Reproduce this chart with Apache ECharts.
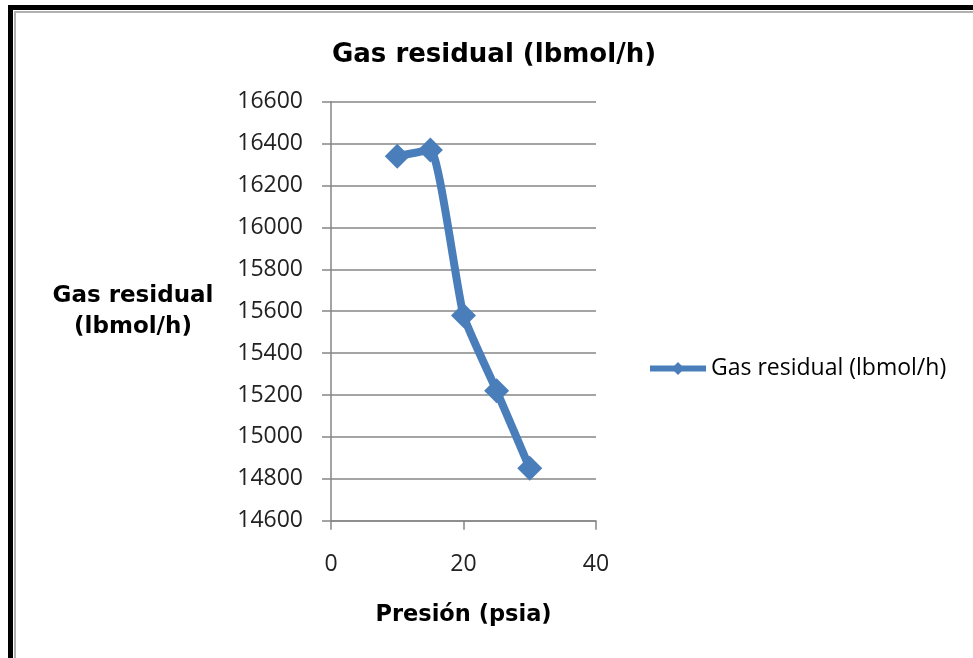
<!DOCTYPE html>
<html>
<head>
<meta charset="utf-8">
<script src="https://cdn.jsdelivr.net/npm/echarts@6/dist/echarts.min.js"></script>
<style>
  html, body { margin: 0; padding: 0; background: #fff; }
  #chart { width: 973px; height: 658px; }
</style>
</head>
<body>
<div id="chart"></div>
<script>
// presion (psia) vs gas residual
let presion = [10, 15, 20, 25, 30];
let gasResidual = [16340, 16370, 15580, 15220, 14850];
let xTicks = [0, 20, 40];
let yTicks = [14600, 16600, 200]; // min, max, step

let myChart = echarts.init(document.getElementById('chart'));

let points = [];
presion.forEach((p, i) => {
    points.push([p, gasResidual[i]]);
});

let option = {
    backgroundColor: '#fff',
    animation: false,
    title: {
        text: 'Gas residual (lbmol/h)',
        left: 489,
        top: 37,
        textAlign: 'center',
        textStyle: {
            fontFamily: 'DejaVu Sans',
            fontWeight: 'bold',
            fontSize: 26,
            color: '#000'
        }
    },
    legend: {
        left: 647,
        top: 357,
        padding: 0,
        itemWidth: 56,
        itemHeight: 16,
        itemGap: 0,
        lineStyle: { width: 6 },
        textStyle: {
            fontFamily: 'Open Sans',
            fontSize: 23,
            color: '#000'
        },
        data: ['Gas residual (lbmol/h)']
    },
    grid: {
        left: 331,
        top: 101.7,
        right: 377,
        bottom: 137.3,
        containLabel: false
    },
    xAxis: {
        type: 'value',
        min: xTicks[0],
        max: xTicks[xTicks.length - 1],
        interval: 20,
        name: 'Presión (psia)',
        nameLocation: 'middle',
        nameGap: 83,
        nameTextStyle: {
            fontFamily: 'DejaVu Sans',
            fontWeight: 'bold',
            fontSize: 22.5,
            color: '#000'
        },
        axisLine: { lineStyle: { color: '#868686', width: 1.5 } },
        axisTick: { show: true, length: 9, lineStyle: { color: '#868686', width: 1.5 } },
        axisLabel: {
            margin: 32,
            fontFamily: 'Open Sans',
            fontSize: 23,
            color: '#222'
        },
        splitLine: { show: false }
    },
    yAxis: {
        type: 'value',
        min: yTicks[0],
        max: yTicks[1],
        interval: yTicks[2],
        name: 'Gas residual\n(lbmol/h)',
        nameLocation: 'middle',
        nameGap: 198,
        nameRotate: 0,
        nameTextStyle: {
            fontFamily: 'DejaVu Sans',
            fontWeight: 'bold',
            fontSize: 23,
            lineHeight: 31,
            align: 'center',
            padding: [6, 0, 0, 0],
            color: '#000'
        },
        axisLine: { show: true, lineStyle: { color: '#868686', width: 1.5 } },
        axisTick: { show: true, length: 9, lineStyle: { color: '#868686', width: 1.5 } },
        axisLabel: {
            margin: 28,
            fontFamily: 'Open Sans',
            fontSize: 23,
            color: '#222',
            formatter: (v) => String(v)
        },
        splitLine: { show: true, lineStyle: { color: '#868686', width: 1.5 } }
    },
    series: [{
        name: 'Gas residual (lbmol/h)',
        type: 'line',
        data: points,
        smooth: 0.15,
        symbol: 'diamond',
        symbolSize: 25,
        lineStyle: { color: '#4a7ebb', width: 8 },
        itemStyle: { color: '#4a7ebb' }
    }],
    graphic: [
        // black frame round the picture
        { type: 'rect', shape: { x: 8, y: 5, width: 965, height: 5 }, style: { fill: '#000' } },
        { type: 'rect', shape: { x: 8, y: 5, width: 5, height: 653 }, style: { fill: '#000' } },
        { type: 'rect', shape: { x: 14, y: 11, width: 959, height: 2 }, style: { fill: '#b0b0b0' } },
        { type: 'rect', shape: { x: 14, y: 11, width: 2, height: 647 }, style: { fill: '#b0b0b0' } }
    ]
};

myChart.setOption(option);
</script>
</body>
</html>
